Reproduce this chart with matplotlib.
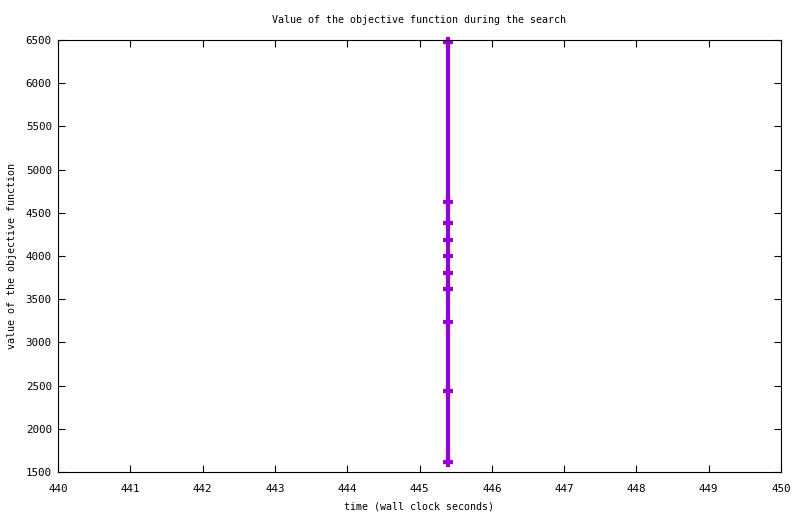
import matplotlib
matplotlib.use("Agg")
import matplotlib.pyplot as plt

# data
times = [445.39, 445.39, 445.39, 445.39, 445.39, 445.39, 445.39, 445.39, 445.39, 445.39]
objective = [6475, 4625, 4378, 4189, 4004, 3807, 3622, 3240, 2438, 1616]

x_ticks = list(range(440, 451))
y_ticks = list(range(1500, 6501, 500))

plt.rcParams['font.family'] = ['DejaVu Sans Mono']
plt.rcParams['font.size'] = 7

fig = plt.figure(figsize=(8.0, 5.14), dpi=100)
ax = fig.add_axes([58/800, 1 - 472/514, (781 - 58)/800, (472 - 40)/514])

ax.plot(times, objective, color='#9400D3', linewidth=3.0, marker='+',
        markersize=7.5, markeredgewidth=3.0, solid_capstyle='projecting',
        clip_on=False)

ax.set_xlim(440, 450)
ax.set_ylim(1500, 6500)
ax.set_xticks(x_ticks)
ax.set_yticks(y_ticks)
ax.tick_params(direction='in', top=True, right=True, length=5, width=0.8,
               labelsize=7.8)
ax.tick_params(axis='x', pad=9)
ax.tick_params(axis='y', pad=4.5)
for s in ax.spines.values():
    s.set_linewidth(0.8)

ax.set_title('Value of the objective function during the search', fontsize=7.2, pad=12.5)
ax.set_xlabel('time (wall clock seconds)', fontsize=7.2, labelpad=5)
ax.set_ylabel('value of the objective function', fontsize=7.2, labelpad=6.5)

fig.savefig('out.png', dpi=100)
